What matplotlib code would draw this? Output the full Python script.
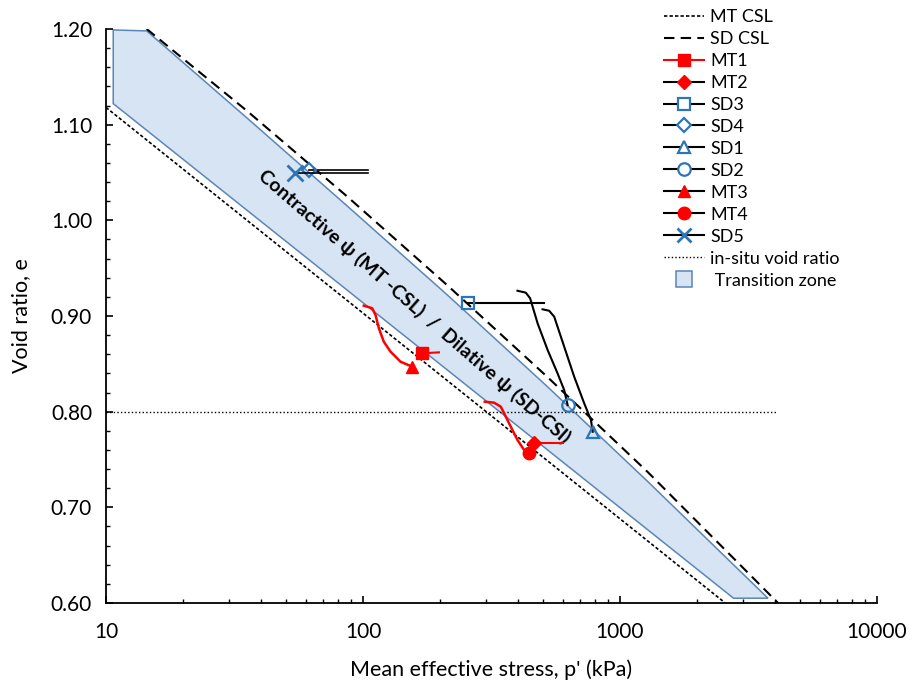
import matplotlib.pyplot as plt
from matplotlib.lines import Line2D
from matplotlib.ticker import MultipleLocator, FuncFormatter, LogLocator
import numpy as np

plt.rcParams['font.family'] = ['Lato', 'DejaVu Sans']

# critical state lines, transition zone, in-situ line
mt_csl_p = [10, 2567]
mt_csl_e = [1.118, 0.600]
sd_csl_p = [14.4, 35.37, 86.8, 212.9, 522.6, 1282, 4120]
sd_csl_e = [1.200, 1.1144, 1.0249, 0.9321, 0.8361, 0.7369, 0.600]
zone_p = [10.67, 10.67, 14.4, 35.37, 86.8, 212.9, 522.6, 1282, 3765, 2766]
zone_e = [1.122, 1.199, 1.198, 1.107, 1.015, 0.922, 0.826, 0.727, 0.605, 0.605]
insitu_p = [10, 4055]
insitu_e = [0.80, 0.80]

# stress paths (marker sits on the last point)
mt1_p = [197.5, 170]
mt1_e = [0.862, 0.861]
mt2_p = [598, 463]
mt2_e = [0.767, 0.767]
sd3_p = [507, 256]
sd3_e = [0.914, 0.914]
sd4_p = [104.3, 61.5]
sd4_e = [1.053, 1.053]
sd1_p = [499.5, 530, 554.6, 606.6, 663.5, 725.7, 771, 782.6]
sd1_e = [0.907, 0.9055, 0.8993, 0.8679, 0.8365, 0.8087, 0.7913, 0.779]
sd2_p = [399, 430, 447, 478, 523, 571.6, 606.6, 625.5]
sd2_e = [0.9264, 0.9244, 0.9185, 0.8923, 0.8644, 0.84, 0.8226, 0.8069]
mt3_p = [100.7, 108.6, 111.9, 115.3, 120.5, 128, 140, 155.5]
mt3_e = [0.9108, 0.9081, 0.901, 0.8871, 0.8731, 0.8627, 0.8522, 0.847]
mt4_p = [297.7, 323.6, 343.7, 354, 375.8, 399, 423.6, 443]
mt4_e = [0.8104, 0.8094, 0.8052, 0.7983, 0.7843, 0.7704, 0.7599, 0.7565]
sd5_p = [104.3, 54.6]
sd5_e = [1.0495, 1.0495]

red = '#ff0000'
blue = '#2e75b6'
mt_ls = (0, (2, 1.3))
sd_ls = (0, (5, 3))
dot_ls = (0, (1, 1.6))

fig = plt.figure(figsize=(9.16, 6.87), dpi=100)
ax = fig.add_axes([106/916, 1-603/687, (877-106)/916, (603-29)/687])

ax.fill(zone_p, zone_e, facecolor='#d6e4f3', edgecolor='#5b86b8', lw=1.1, zorder=1)
ax.plot(mt_csl_p, mt_csl_e, color='k', ls=mt_ls, lw=1.2, zorder=2)
ax.plot(sd_csl_p, sd_csl_e, color='k', ls=sd_ls, lw=1.5, zorder=2)
ax.plot(insitu_p, insitu_e, color='k', ls=dot_ls, lw=1.0, zorder=2)

ax.plot(mt1_p, mt1_e, color=red, lw=1.5, marker='s', ms=8, markevery=[-1], zorder=4)
ax.plot(mt2_p, mt2_e, color=red, lw=1.5, marker='D', ms=7, markevery=[-1], zorder=4)
ax.plot(sd3_p, sd3_e, color='k', lw=1.5, marker='s', ms=9, mfc='none', mec=blue, mew=1.6,
        markevery=[-1], zorder=4)
ax.plot(sd4_p, sd4_e, color='k', lw=1.2, marker='D', ms=7.5, mfc='none', mec=blue, mew=1.6,
        markevery=[-1], zorder=4)
ax.plot(sd1_p, sd1_e, color='k', lw=1.5, marker='^', ms=9, mfc='none', mec=blue, mew=1.6,
        markevery=[-1], zorder=4)
ax.plot(sd2_p, sd2_e, color='k', lw=1.5, marker='o', ms=9, mfc='none', mec=blue, mew=1.6,
        markevery=[-1], zorder=4)
ax.plot(mt3_p, mt3_e, color=red, lw=1.8, marker='^', ms=9, markevery=[-1], zorder=4)
ax.plot(mt4_p, mt4_e, color=red, lw=1.8, marker='o', ms=9, markevery=[-1], zorder=4)
ax.plot(sd5_p, sd5_e, color='k', lw=1.2, marker='x', ms=11, mec=blue, mew=2,
        markevery=[-1], zorder=4)

ax.text(158.8, 0.9104, 'Contractive \u03c8 (MT -CSL)  /  Dilative \u03c8 (SD-CSl)',
        rotation=-41, rotation_mode='anchor', ha='center', va='center',
        fontsize=14, fontweight='bold', zorder=3)

ax.set_xscale('log')
ax.set_xlim(10, 10000)
ax.set_ylim(0.6, 1.2)
ax.xaxis.set_major_locator(LogLocator(base=10, numticks=10))
ax.xaxis.set_minor_locator(LogLocator(base=10, subs=np.arange(2, 10), numticks=20))
ax.xaxis.set_major_formatter(FuncFormatter(lambda v, pos: '%d' % v))
ax.xaxis.set_minor_formatter(FuncFormatter(lambda v, pos: ''))
ax.yaxis.set_major_locator(MultipleLocator(0.1))
ax.yaxis.set_minor_locator(MultipleLocator(0.02))
ax.yaxis.set_major_formatter(FuncFormatter(lambda v, pos: '%.2f' % v))

ax.tick_params(which='major', direction='in', length=5, width=1.2, labelsize=15)
ax.tick_params(which='minor', direction='in', length=3, width=1.0)
ax.tick_params(axis='x', which='major', pad=14)
ax.tick_params(axis='y', which='major', pad=10)
for s in ['top', 'right']:
    ax.spines[s].set_visible(False)
for s in ['left', 'bottom']:
    ax.spines[s].set_linewidth(1.3)

ax.set_xlabel("Mean effective stress, p' (kPa)", fontsize=15.5)
ax.set_ylabel('Void ratio, e', fontsize=15.5)
ax.xaxis.set_label_coords(0.5, -0.098)
ax.yaxis.set_label_coords(-0.097, 0.5)

handles = [
    Line2D([], [], color='k', ls=mt_ls, lw=1.2),
    Line2D([], [], color='k', ls=sd_ls, lw=1.5),
    Line2D([], [], color=red, lw=1.5, marker='s', ms=8),
    Line2D([], [], color='k', lw=1.5, marker='D', ms=7, mfc=red, mec=red),
    Line2D([], [], color='k', lw=1.5, marker='s', ms=9, mfc='white', mec=blue, mew=1.6),
    Line2D([], [], color='k', lw=1.5, marker='D', ms=7, mfc='white', mec=blue, mew=1.6),
    Line2D([], [], color='k', lw=1.5, marker='^', ms=9, mfc='white', mec=blue, mew=1.6),
    Line2D([], [], color='k', lw=1.5, marker='o', ms=9, mfc='white', mec=blue, mew=1.6),
    Line2D([], [], color='k', lw=1.5, marker='^', ms=9, mfc=red, mec=red),
    Line2D([], [], color='k', lw=1.5, marker='o', ms=9, mfc=red, mec=red),
    Line2D([], [], color='k', lw=1.5, marker='x', ms=10, mec=blue, mew=2),
    Line2D([], [], color='k', ls=dot_ls, lw=1.0),
    Line2D([], [], ls='none', marker='s', ms=11, mfc='#d6e4f3', mec='#5b86b8', mew=1.1),
]
labels = ['MT CSL', 'SD CSL', 'MT1', 'MT2', 'SD3', 'SD4', 'SD1', 'SD2', 'MT3', 'MT4',
          'SD5', 'in-situ void ratio', ' Transition zone']
fig.legend(handles, labels, loc='upper left', bbox_to_anchor=(664/916, 1-9/687),
           frameon=False, fontsize=13, handlelength=2.2, handletextpad=0.35,
           labelspacing=0.33, borderpad=0, borderaxespad=0)

fig.savefig('out.png', dpi=100)
